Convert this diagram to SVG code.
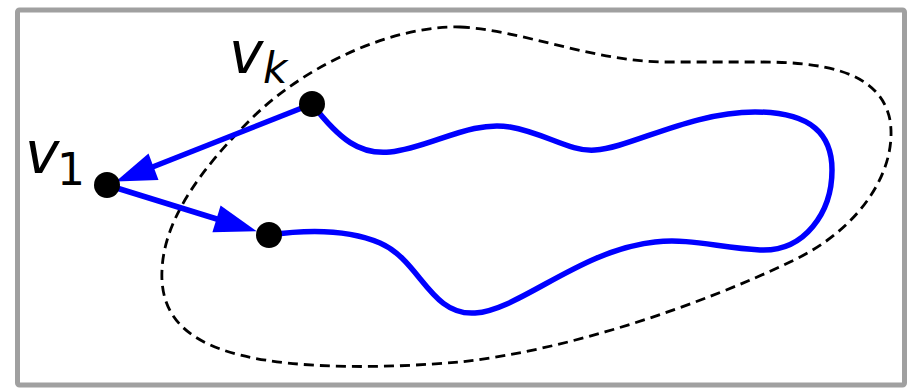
<svg xmlns="http://www.w3.org/2000/svg" width="914" height="389" viewBox="0 0 914 389">
<style>
.frame{fill:#fff;stroke:#a0a0a0;stroke-width:5}
.region{fill:none;stroke:#000;stroke-width:2.8;stroke-dasharray:10 6}
.path{fill:none;stroke:#0000ff;stroke-width:5.5;stroke-linecap:round}
.edge{stroke:#0000ff;stroke-width:5.5}
.head{fill:#0000ff}
.node{fill:#000}
.lbl{font-family:"DejaVu Sans",sans-serif;font-style:italic;fill:#000}
.sub{font-family:"DejaVu Sans",sans-serif;fill:#000}
</style>
<rect class="frame" x="17.5" y="10" width="887" height="375" rx="2"/>
<g id="region">
<path class="region" d="M 460,27 C 520,30 590,60 660,62 L 760,62 C 820,62 880,70 890,120 C 898,170 860,230 790,262 C 700,305 570,350 460,362 C 390,368 300,370 240,355 C 180,340 160,310 162,270 C 164,220 200,170 250,120 C 310,60 400,25 460,27 Z"/>
</g>
<g id="walk">
<path class="path" d="M 312,104 C 340,140 360,155 390,152 C 430,148 470,120 510,127 C 545,133 570,152 595,150 C 630,148 690,112 755,112 C 812,112 832,135 832,170 C 832,212 805,252 760,250 C 720,248 690,238 655,242 C 580,250 520,310 475,313 C 430,316 420,260 380,243 C 340,226 290,232 269,235"/>
</g>
<g id="connectors">
<line class="edge" x1="312" y1="104" x2="150" y2="168"/>
<polygon class="head" points="115.8,181.5 148.5,153.5 158.5,180"/>
<line class="edge" x1="107" y1="185" x2="220" y2="220"/>
<polygon class="head" points="256.6,231.2 220.6,205.4 212.4,232.2"/>
</g>
<g id="vk">
<circle class="node" cx="312" cy="104" r="13"/>
<text class="lbl" x="229" y="73" font-size="58">v</text>
<text class="lbl" x="263" y="83" font-size="42">k</text>
</g>
<g id="v1">
<circle class="node" cx="107" cy="185" r="13"/>
<text class="lbl" x="25" y="173" font-size="58">v</text>
<text class="sub" x="57" y="185" font-size="44">1</text>
</g>
<g id="vnext">
<circle class="node" cx="269" cy="235" r="13"/>
</g>
</svg>
